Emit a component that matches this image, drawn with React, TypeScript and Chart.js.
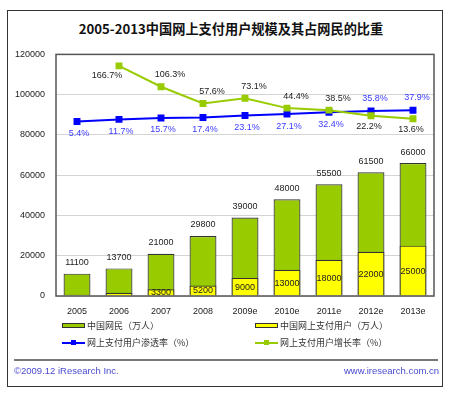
import React, { useEffect, useRef } from 'react';
import { Chart, registerables } from 'chart.js';

Chart.register(...registerables);

const title = '2005-2013中国网上支付用户规模及其占网民的比重';
const years = ['2005', '2006', '2007', '2008', '2009e', '2010e', '2011e', '2012e', '2013e'];
const netizens = [11100, 13700, 21000, 29800, 39000, 48000, 55500, 61500, 66000];
const payUsers = [600, 1600, 3300, 5200, 9000, 13000, 18000, 22000, 25000];
const penetration = [5.4, 11.7, 15.7, 17.4, 23.1, 27.1, 32.4, 35.8, 37.9];
const growth = [null, 166.7, 106.3, 57.6, 73.1, 44.4, 38.5, 22.2, 13.6];
const yMax = 120000;
const yStep = 20000;
const seriesNames = ['中国网民（万人）', '中国网上支付用户（万人）', '网上支付用户渗透率（%）', '网上支付用户增长率（%）'];
const sourceText = '©2009.12 iResearch Inc.';
const siteText = 'www.iresearch.com.cn';

// label placement around line points
const penetrationSide = ['below', 'below', 'below', 'below', 'below', 'below', 'below', 'above', 'above'];
const growthSide = ['none', 'left', 'above', 'above', 'above', 'above', 'above', 'below', 'below'];

const GREEN = '#99cc00';
const YELLOW = '#ffff00';
const BLUE = '#0000ff';
const FONT = '"Liberation Sans", "Noto Sans CJK SC", sans-serif';

const labelPlugin = {
  id: 'customLabels',
  afterDatasetsDraw(chart: any) {
    const ctx = chart.ctx;
    const area = chart.chartArea;
    ctx.save();
    ctx.strokeStyle = '#555';
    ctx.lineWidth = 1.5;
    ctx.strokeRect(area.left, area.top, area.right - area.left, area.bottom - area.top);

    ctx.font = '9px ' + FONT;
    ctx.textAlign = 'center';
    ctx.textBaseline = 'middle';

    const metaNet = chart.getDatasetMeta(0);
    const metaPay = chart.getDatasetMeta(1);
    const metaPen = chart.getDatasetMeta(2);
    const metaGro = chart.getDatasetMeta(3);

    ctx.fillStyle = '#222';
    metaNet.data.forEach((el: any, i: number) => {
      ctx.fillText(String(netizens[i]), el.x, el.y - 11);
    });
    metaPay.data.forEach((el: any, i: number) => {
      if (payUsers[i] < 3000) return;
      ctx.fillText(String(payUsers[i]), el.x, (el.y + el.base) / 2 + 0.5);
    });

    ctx.fillStyle = '#3a3aff';
    metaPen.data.forEach((el: any, i: number) => {
      const side = penetrationSide[i];
      const dx = side === 'above' ? 4 : 2;
      const dy = side === 'above' ? -13 : 12;
      ctx.fillText(penetration[i].toFixed(1) + '%', el.x + dx, el.y + dy);
    });

    ctx.fillStyle = '#222';
    metaGro.data.forEach((el: any, i: number) => {
      const v = growth[i];
      const side = growthSide[i];
      if (v == null || side === 'none') return;
      let dx = 0, dy = 0;
      if (side === 'left') { dx = -12; dy = 10; }
      else if (side === 'above') { dx = 9; dy = -12; }
      else { dx = -2; dy = 11; }
      ctx.fillText(v.toFixed(1) + '%', el.x + dx, el.y + dy);
    });
    ctx.restore();
  },
};

function ChartCanvas() {
  const ref = useRef<HTMLCanvasElement | null>(null);
  useEffect(() => {
    if (!ref.current) return;
    const chart = new Chart(ref.current, {
      type: 'bar',
      data: {
        labels: years,
        datasets: [
          {
            type: 'bar',
            label: seriesNames[0],
            data: netizens,
            backgroundColor: GREEN,
            borderColor: '#333',
            borderWidth: 1.2,
            grouped: false,
            barPercentage: 0.64,
            categoryPercentage: 1,
            order: 3,
            yAxisID: 'y',
          } as any,
          {
            type: 'bar',
            label: seriesNames[1],
            data: payUsers,
            backgroundColor: YELLOW,
            borderColor: '#333',
            borderWidth: 1.2,
            grouped: false,
            barPercentage: 0.64,
            categoryPercentage: 1,
            order: 2,
            yAxisID: 'y',
          } as any,
          {
            type: 'line',
            label: seriesNames[2],
            data: penetration,
            borderColor: BLUE,
            backgroundColor: BLUE,
            borderWidth: 2,
            pointStyle: 'rect',
            pointRadius: 3.5,
            order: 1,
            yAxisID: 'y1',
          } as any,
          {
            type: 'line',
            label: seriesNames[3],
            data: growth,
            borderColor: GREEN,
            backgroundColor: GREEN,
            borderWidth: 2,
            pointStyle: 'rect',
            pointRadius: 3.5,
            order: 0,
            yAxisID: 'y1',
          } as any,
        ],
      },
      options: {
        responsive: false,
        animation: false,
        devicePixelRatio: 1,
        layout: { padding: { left: 0, right: 5, top: 7, bottom: 0 } },
        plugins: { legend: { display: false }, tooltip: { enabled: false }, title: { display: false } },
        scales: {
          x: {
            grid: { display: false, drawTicks: false },
            border: { display: false },
            ticks: { color: '#222', font: { size: 9, family: FONT }, padding: 10, maxRotation: 0 },
            afterFit: (s: any) => { s.height = 24; },
          },
          y: {
            min: 0,
            max: yMax,
            grid: { color: '#d4d4d4', drawTicks: false, lineWidth: 1 },
            border: { display: false },
            ticks: {
              stepSize: yStep,
              color: '#222',
              font: { size: 9, family: FONT },
              padding: 11,
              callback: (v: any) => String(v),
            },
            afterFit: (s: any) => { s.width = 48; },
          },
          y1: {
            display: false,
            min: -500,
            max: 200,
          },
        },
      },
      plugins: [labelPlugin],
    });
    return () => chart.destroy();
  }, []);
  return <canvas ref={ref} width={432} height={282} style={{ width: 432, height: 282, display: 'block' }} />;
}

function LegendBox({ kind, color }: { kind: 'bar' | 'line'; color: string }) {
  if (kind === 'bar') {
    return (
      <div style={{ position: 'absolute', left: 0, top: 3, width: 21, height: 3, background: color, border: '1.2px solid #333' }} />
    );
  }
  return (
    <div style={{ position: 'absolute', left: 0, top: 0, width: 23, height: 11 }}>
      <div style={{ position: 'absolute', left: 0, top: 5, width: 23, height: 1.5, background: color }} />
      <div style={{ position: 'absolute', left: 9, top: 3, width: 5, height: 5, background: color }} />
    </div>
  );
}

export default function App() {
  const legendItems = [
    { name: seriesNames[0], kind: 'bar' as const, color: GREEN, x: 62, y: 320 },
    { name: seriesNames[1], kind: 'bar' as const, color: YELLOW, x: 255, y: 320 },
    { name: seriesNames[2], kind: 'line' as const, color: BLUE, x: 62, y: 337 },
    { name: seriesNames[3], kind: 'line' as const, color: GREEN, x: 255, y: 337 },
  ];
  return (
    <div style={{ position: 'absolute', left: 0, top: 0, width: 450, height: 393, background: '#fff', fontFamily: FONT }}>
      <div
        style={{
          position: 'absolute',
          left: 7,
          top: 10,
          width: 436,
          height: 377,
          border: '1.5px solid #333',
          boxSizing: 'border-box',
        }}
      />
      <div
        style={{
          position: 'absolute',
          left: 0,
          top: 20,
          width: 462,
          textAlign: 'center',
          fontSize: 13.2,
          fontWeight: 'bold',
          lineHeight: '18px',
          color: '#111',
          fontFamily: '"Noto Sans CJK SC", sans-serif',
        }}
      >
        {title}
      </div>
      <div style={{ position: 'absolute', left: 8, top: 38 }}>
        <ChartCanvas />
      </div>
      {legendItems.map((it) => (
        <div key={it.name} style={{ position: 'absolute', left: it.x, top: it.y, height: 12, width: 190 }}>
          <LegendBox kind={it.kind} color={it.color} />
          <div
            style={{
              position: 'absolute',
              left: 25,
              top: 0,
              fontSize: 9,
              lineHeight: '12px',
              color: '#333',
              whiteSpace: 'nowrap',
              fontFamily: '"Noto Sans CJK SC", sans-serif',
            }}
          >
            {it.name}
          </div>
        </div>
      ))}
      <div style={{ position: 'absolute', left: 14, top: 359, width: 424, height: 1.5, background: '#777' }} />
      <div style={{ position: 'absolute', left: 14, top: 365, fontSize: 9.5, lineHeight: '12px', color: '#4a4ad0' }}>
        {sourceText}
      </div>
      <div style={{ position: 'absolute', right: 11, top: 365, fontSize: 9.5, lineHeight: '12px', color: '#4a4ad0' }}>
        {siteText}
      </div>
    </div>
  );
}
